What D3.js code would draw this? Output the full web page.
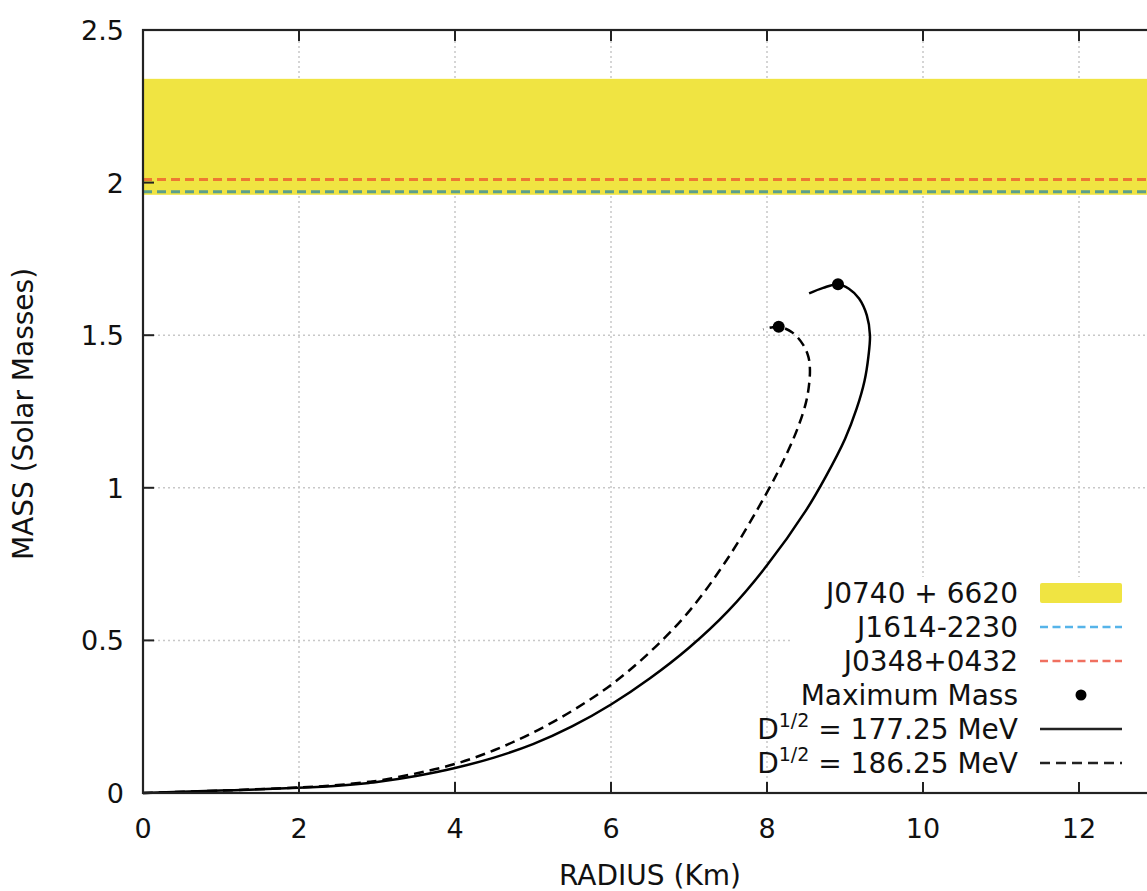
<!DOCTYPE html>
<html><head><meta charset="utf-8">
<script src="https://cdn.jsdelivr.net/npm/d3@7/dist/d3.min.js"></script>
<style>
html,body{margin:0;padding:0;background:#fff;}
svg{display:block;font-family:"DejaVu Sans",sans-serif;}
</style></head>
<body>
<svg id="chart" width="1147" height="891"></svg>
<script>
// ---- data ----
const xTicks = [0, 2, 4, 6, 8, 10, 12];
const yTicks = [0, 0.5, 1, 1.5, 2, 2.5];
const yTickLabels = ["0", "0.5", "1", "1.5", "2", "2.5"];

// J0740+6620 band (min, max)
const bandJ0740 = [1.96, 2.34];
const massJ1614 = 1.97;
const massJ0348 = 2.01;

// D^{1/2} = 177.25 MeV  [radius, mass]
const curve177 = [
  [0,0],[0.5,0.004],[1,0.008],[1.5,0.012],[2,0.017],[2.5,0.024],[2.9,0.033],
  [3.0,0.036],[3.5,0.056],[4.0,0.082],[4.5,0.116],[5.0,0.16],[5.5,0.218],
  [6.0,0.29],[6.5,0.376],[7.0,0.476],[7.5,0.596],[8.0,0.746],[8.5,0.926],
  [8.75,1.035],[9.0,1.16],[9.15,1.26],[9.25,1.35],[9.3,1.43],
  [9.32,1.5],[9.28,1.565],[9.18,1.62],[9.05,1.652],[8.91,1.667],[8.72,1.655],[8.54,1.637]
];
// D^{1/2} = 186.25 MeV  [radius, mass]
const curve186 = [
  [0,0],[1,0.008],[2,0.018],[2.5,0.026],[2.9,0.037],[3.0,0.04],[3.5,0.064],
  [4.0,0.095],[4.5,0.14],[5.0,0.198],[5.5,0.269],[6.0,0.354],[6.5,0.462],
  [7.0,0.595],[7.5,0.77],[8.0,0.985],[8.25,1.11],[8.4,1.2],[8.5,1.28],
  [8.54,1.34],[8.55,1.39],[8.53,1.43],[8.46,1.47],[8.32,1.51],
  [8.15,1.528],[8.05,1.525],[7.95,1.519]
];
// maximum-mass points [radius, mass]
const maxMass = [[8.91, 1.667], [8.15, 1.528]];

const legendLabels = ["J0740 + 6620", "J1614-2230", "J0348+0432", "Maximum Mass", "177.25 MeV", "186.25 MeV"];

// ---- layout ----
const svg = d3.select("#chart");
const L = 143, T = 30, R = 1157, B = 793;
const x = d3.scaleLinear().domain([0, 13]).range([L, R]);
const y = d3.scaleLinear().domain([0, 2.5]).range([B, T]);

const YELLOW = "#F0E442", BLUE = "#56B4E9", RED = "#F07060";
const BLUE_ON_BAND = "#5c9f8c", RED_ON_BAND = "#ee7832";

// grid
const grid = svg.append("g").attr("stroke", "#c8c8c8").attr("stroke-width", 1.5)
  .attr("stroke-dasharray", "2,3");
grid.selectAll(".gx").data(xTicks.filter(d => d > 0)).join("line")
  .attr("x1", d => x(d)).attr("x2", d => x(d)).attr("y1", B).attr("y2", T);
grid.selectAll(".gy").data(yTicks.filter(d => d > 0 && d < 2.5)).join("line")
  .attr("x1", L).attr("x2", R).attr("y1", d => y(d)).attr("y2", d => y(d));

// band
svg.append("rect").attr("x", L).attr("width", R - L)
  .attr("y", y(bandJ0740[1])).attr("height", y(bandJ0740[0]) - y(bandJ0740[1]))
  .attr("fill", YELLOW);

// reference lines
svg.append("line").attr("x1", L).attr("x2", R).attr("y1", y(massJ1614)).attr("y2", y(massJ1614))
  .attr("stroke", BLUE_ON_BAND).attr("stroke-width", 3).attr("stroke-dasharray", "9,5");
svg.append("line").attr("x1", L).attr("x2", R).attr("y1", y(massJ0348)).attr("y2", y(massJ0348))
  .attr("stroke", RED_ON_BAND).attr("stroke-width", 3).attr("stroke-dasharray", "9,5");

// legend background
const lgX = 792, lgY = 577;
svg.append("rect").attr("x", lgX).attr("y", lgY).attr("width", R - lgX).attr("height", B - 2 - lgY)
  .attr("fill", "#fff");

// curves
const line = d3.line().x(d => x(d[0])).y(d => y(d[1])).curve(d3.curveCatmullRom.alpha(0.5));
svg.append("path").attr("d", line(curve177)).attr("fill", "none")
  .attr("stroke", "#000").attr("stroke-width", 2.5);
svg.append("path").attr("d", line(curve186)).attr("fill", "none")
  .attr("stroke", "#000").attr("stroke-width", 2.5).attr("stroke-dasharray", "10,6");
svg.selectAll(".mm").data(maxMass).join("circle")
  .attr("cx", d => x(d[0])).attr("cy", d => y(d[1])).attr("r", 6).attr("fill", "#000");

// axes box
svg.append("rect").attr("x", L).attr("y", T).attr("width", R - L).attr("height", B - T)
  .attr("fill", "none").attr("stroke", "#222").attr("stroke-width", 2.2);

// ticks (inward, mirrored)
const tk = svg.append("g").attr("stroke", "#222").attr("stroke-width", 2);
xTicks.forEach(v => {
  tk.append("line").attr("x1", x(v)).attr("x2", x(v)).attr("y1", B).attr("y2", B - 11);
  tk.append("line").attr("x1", x(v)).attr("x2", x(v)).attr("y1", T).attr("y2", T + 11);
});
yTicks.forEach(v => {
  tk.append("line").attr("x1", L).attr("x2", L + 11).attr("y1", y(v)).attr("y2", y(v));
});

// tick labels
svg.selectAll(".xl").data(xTicks).join("text")
  .attr("x", d => x(d)).attr("y", 838).attr("text-anchor", "middle")
  .attr("font-size", 27).attr("fill", "#111").text(d => d);
svg.selectAll(".yl").data(yTicks).join("text")
  .attr("x", 124).attr("y", d => y(d) + 10).attr("text-anchor", "end")
  .attr("font-size", 27).attr("fill", "#111").text((d, i) => yTickLabels[i]);

// axis titles
svg.append("text").attr("x", 650).attr("y", 885).attr("text-anchor", "middle")
  .attr("font-size", 28).attr("fill", "#111").text("RADIUS (Km)");
svg.append("text").attr("transform", "translate(33,414) rotate(-90)").attr("text-anchor", "middle")
  .attr("font-size", 28).attr("fill", "#111").text("MASS (Solar Masses)");

// legend
const lgTextX = 1018, sx1 = 1040, sx2 = 1122;
const rowY = [593, 627, 661, 695, 729, 763];
const lg = svg.append("g").attr("font-size", 28).attr("fill", "#111");
legendLabels.forEach((lab, i) => {
  const t = lg.append("text").attr("x", lgTextX).attr("y", rowY[i] + 10).attr("text-anchor", "end");
  if (i >= 4) {
    t.append("tspan").text("D");
    t.append("tspan").attr("font-size", 19).attr("dy", -12).text("1/2");
    t.append("tspan").attr("dy", 12).text(" = " + lab);
  } else {
    t.text(lab);
  }
});
svg.append("rect").attr("x", sx1).attr("y", rowY[0] - 10).attr("width", sx2 - sx1).attr("height", 20)
  .attr("rx", 2).attr("fill", YELLOW);
svg.append("line").attr("x1", sx1).attr("x2", sx2).attr("y1", rowY[1]).attr("y2", rowY[1])
  .attr("stroke", BLUE).attr("stroke-width", 2.5).attr("stroke-dasharray", "8,4.5");
svg.append("line").attr("x1", sx1).attr("x2", sx2).attr("y1", rowY[2]).attr("y2", rowY[2])
  .attr("stroke", RED).attr("stroke-width", 2.5).attr("stroke-dasharray", "8,4.5");
svg.append("circle").attr("cx", (sx1 + sx2) / 2).attr("cy", rowY[3]).attr("r", 5.5).attr("fill", "#000");
svg.append("line").attr("x1", sx1).attr("x2", sx2).attr("y1", rowY[4]).attr("y2", rowY[4])
  .attr("stroke", "#222").attr("stroke-width", 2.5);
svg.append("line").attr("x1", sx1).attr("x2", sx2).attr("y1", rowY[5]).attr("y2", rowY[5])
  .attr("stroke", "#222").attr("stroke-width", 2.5).attr("stroke-dasharray", "10,6");
</script>
</body></html>
